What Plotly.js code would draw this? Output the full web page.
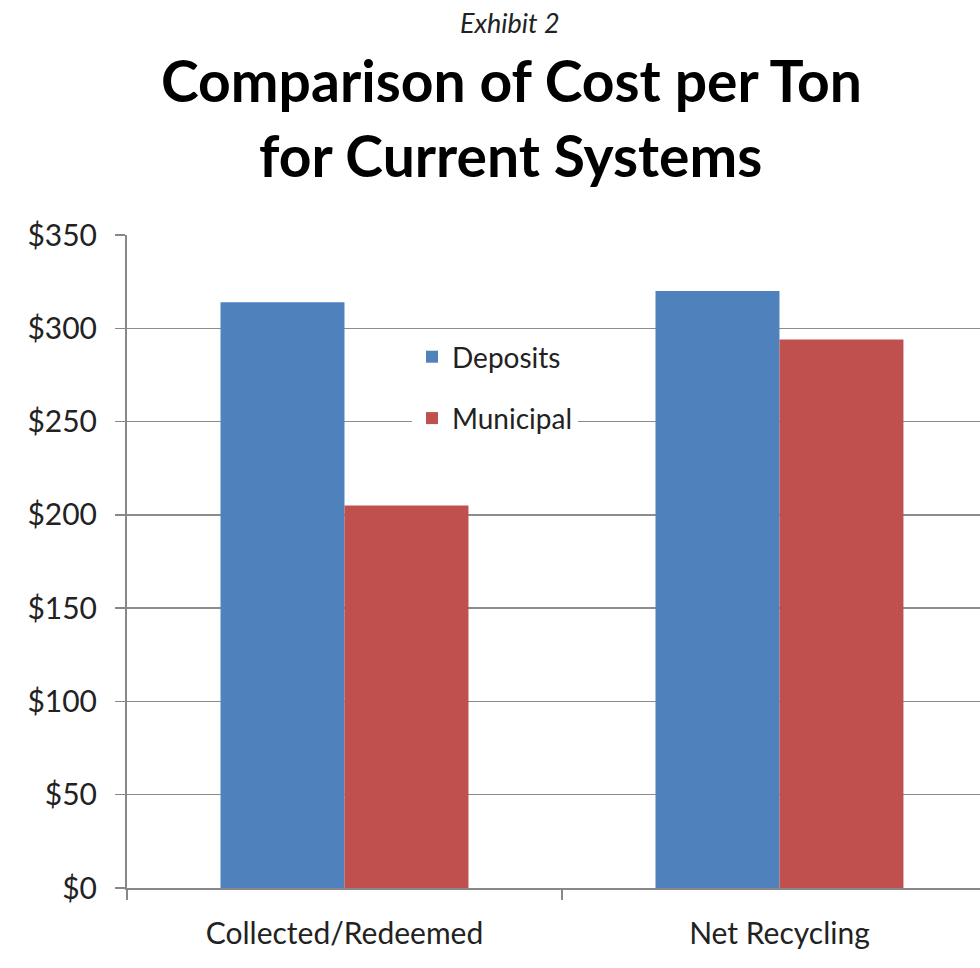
<!DOCTYPE html>
<html>
<head>
<meta charset="utf-8">
<script src="https://cdn.plot.ly/plotly-3.0.1.min.js"></script>
<style>html,body{margin:0;padding:0;background:#fff;}#chart{width:980px;height:968px;}</style>
</head>
<body>
<div id="chart"></div>
<script>
const categories = ["Collected/Redeemed", "Net Recycling"];
const depositsValues = [314, 320];
const municipalValues = [205, 294];
const seriesNames = ["Deposits", "Municipal"];
const titleLines = ["Comparison of Cost per Ton", "for Current Systems"];
const exhibitLabel = "Exhibit 2";

const FONT = "Lato, 'Open Sans', sans-serif";
const PW = 853, PH = 653, ML = 127, MT = 235;
function px(x) { return (x - ML) / PW; }
function py(y) { return 1 - (y - MT) / PH; }

const traces = [
  {type: "bar", name: seriesNames[0], x: categories, y: depositsValues,
   marker: {color: "#4F81BD"}, legendgroup: "a", hoverinfo: "y"},
  {type: "bar", name: seriesNames[1], x: categories, y: municipalValues,
   marker: {color: "#C0504D"}, legendgroup: "b", hoverinfo: "y"}
];

const layout = {
  width: 980, height: 968,
  margin: {l: ML, r: 0, t: MT, b: 80},
  paper_bgcolor: "#fff", plot_bgcolor: "#fff",
  font: {family: FONT, color: "#000"},
  barmode: "group", bargap: 0.43, bargroupgap: 0,
  showlegend: true,
  legend: {x: px(412), y: py(332), xanchor: "left", yanchor: "top",
    bgcolor: "#fff", font: {size: 28, family: FONT, color: "#222"},
    traceorder: "grouped", tracegroupgap: 22, itemwidth: 30},
  annotations: [
    {text: "<i>" + exhibitLabel + "</i>", xref: "paper", yref: "paper",
     x: px(510), y: py(22), xanchor: "center", yanchor: "middle",
     showarrow: false, font: {size: 27, family: FONT, color: "#222"}},
    {text: "<b>" + titleLines[0] + "</b>", xref: "paper", yref: "paper",
     x: px(511), y: py(80), xanchor: "center", yanchor: "middle",
     showarrow: false, font: {size: 57, family: FONT, color: "#000"}},
    {text: "<b>" + titleLines[1] + "</b>", xref: "paper", yref: "paper",
     x: px(510), y: py(155), xanchor: "center", yanchor: "middle",
     showarrow: false, font: {size: 57, family: FONT, color: "#000"}}
  ],
  xaxis: {type: "category", range: [-0.5, 1.461], tickson: "boundaries",
    ticks: "outside", ticklen: 10, tickcolor: "#888", tickwidth: 1.5,
    showline: true, linecolor: "#888", linewidth: 2, showgrid: false,
    ticklabelstandoff: 18,
    tickfont: {size: 30, family: FONT, color: "#222"}, fixedrange: true},
  yaxis: {range: [0, 350], dtick: 50, tickprefix: "$", ticks: "outside",
    ticklen: 10, tickcolor: "#888", tickwidth: 1.5,
    showline: true, linecolor: "#888", linewidth: 2,
    ticklabelstandoff: 12,
    showgrid: true, gridcolor: "#8c8c8c", gridwidth: 1.5, zeroline: false,
    tickfont: {size: 30, family: FONT, color: "#222"}, fixedrange: true}
};

Plotly.newPlot("chart", traces, layout, {displayModeBar: false, staticPlot: true});
</script>
</body>
</html>
